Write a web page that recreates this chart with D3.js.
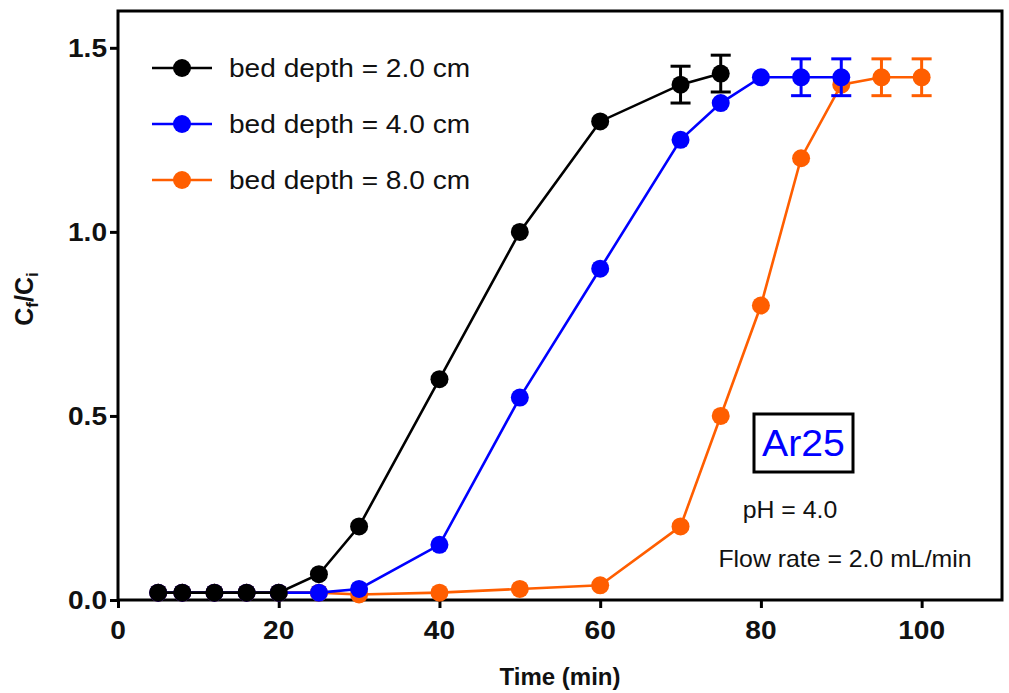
<!DOCTYPE html>
<html>
<head>
<meta charset="utf-8">
<script src="https://cdn.jsdelivr.net/npm/d3@7"></script>
<style>
  html, body { margin: 0; padding: 0; background: #fff; }
  svg { display: block; }
  text { font-family: "Liberation Sans", Arial, Helvetica, sans-serif; fill: #111; }
</style>
</head>
<body>
<svg id="chart" width="1009" height="693"></svg>
<script>
// Breakthrough curves for Ar25 at three bed depths
const seriesNames = ["bed depth = 2.0 cm", "bed depth = 4.0 cm", "bed depth = 8.0 cm"];
const seriesColors = ["#000000", "#0000ff", "#ff5e00"];

const time2cm  = [5, 8, 12, 16, 20, 25, 30, 40, 50, 60, 70, 75];
const ratio2cm = [0.02, 0.02, 0.02, 0.02, 0.02, 0.07, 0.20, 0.60, 1.00, 1.30, 1.40, 1.43];
const err2cm   = [0, 0, 0, 0, 0, 0, 0, 0, 0, 0, 0.05, 0.05];

const time4cm  = [5, 8, 12, 16, 20, 25, 30, 40, 50, 60, 70, 75, 80, 85, 90];
const ratio4cm = [0.02, 0.02, 0.02, 0.02, 0.02, 0.02, 0.03, 0.15, 0.55, 0.90, 1.25, 1.35, 1.42, 1.42, 1.42];
const err4cm   = [0, 0, 0, 0, 0, 0, 0, 0, 0, 0, 0, 0, 0, 0.05, 0.05];

const time8cm  = [5, 8, 12, 16, 20, 25, 30, 40, 50, 60, 70, 75, 80, 85, 90, 95, 100];
const ratio8cm = [0.02, 0.02, 0.02, 0.02, 0.02, 0.02, 0.015, 0.02, 0.03, 0.04, 0.20, 0.50, 0.80, 1.20, 1.40, 1.42, 1.42];
const err8cm   = [0, 0, 0, 0, 0, 0, 0, 0, 0, 0, 0, 0, 0, 0, 0, 0.05, 0.05];

const xTicks = [0, 20, 40, 60, 80, 100];
const yTicks = [0.0, 0.5, 1.0, 1.5];

const svg = d3.select("#chart");
const plotL = 118, plotR = 1002, plotT = 11, plotB = 600;

const x = d3.scaleLinear().domain([0, 110]).range([plotL, plotR]);
const y = d3.scaleLinear().domain([0, 1.6]).range([plotB, plotT]);

function toRows(t, v, e) {
  return t.map((d, i) => ({ t: d, v: v[i], e: e[i] }));
}
const series = [
  toRows(time2cm, ratio2cm, err2cm),
  toRows(time4cm, ratio4cm, err4cm),
  toRows(time8cm, ratio8cm, err8cm)
];

// horizontally widened label helper
function label(g, txt, px, py, opts) {
  const o = Object.assign({ size: 24, sx: 1.08, weight: "normal", anchor: "start", fill: "#111", dy: "0" }, opts || {});
  return g.append("text")
    .attr("transform", `translate(${px},${py}) scale(${o.sx},1)`)
    .attr("font-size", o.size)
    .attr("font-weight", o.weight)
    .attr("text-anchor", o.anchor)
    .attr("dy", o.dy)
    .style("fill", o.fill)
    .text(txt);
}

// axes
const xAxis = d3.axisBottom(x).tickValues(xTicks).tickSize(8).tickFormat(d3.format("d"));
const yAxis = d3.axisLeft(y).tickValues(yTicks).tickSize(8).tickFormat(d3.format(".1f"));

const gx = svg.append("g").attr("transform", `translate(0,${plotB})`).call(xAxis);
const gy = svg.append("g").attr("transform", `translate(${plotL},0)`).call(yAxis);
[gx, gy].forEach(g => {
  g.select(".domain").remove();
  g.selectAll(".tick line").attr("stroke", "#000").attr("stroke-width", 3);
  g.selectAll(".tick text").remove();
});

xTicks.forEach(v => label(svg, d3.format("d")(v), x(v), 639, { size: 26, sx: 1.08, weight: "bold", anchor: "middle" }));
yTicks.forEach(v => label(svg, d3.format(".1f")(v), 107, y(v), { size: 26, sx: 1.08, weight: "bold", anchor: "end", dy: "0.35em" }));

// frame
svg.append("rect")
  .attr("x", plotL).attr("y", plotT)
  .attr("width", plotR - plotL).attr("height", plotB - plotT)
  .attr("fill", "none").attr("stroke", "#000").attr("stroke-width", 3);

// axis titles
label(svg, "Time (min)", (plotL + plotR) / 2, 685, { size: 24, sx: 1.0, weight: "bold", anchor: "middle" });

const yTitle = svg.append("text")
  .attr("transform", "translate(33,299) rotate(-90)")
  .attr("text-anchor", "middle")
  .attr("font-size", 25)
  .attr("font-weight", "bold");
yTitle.append("tspan").text("C");
yTitle.append("tspan").attr("font-size", 17).attr("dy", 5).text("f");
yTitle.append("tspan").attr("dy", -5).text("/C");
yTitle.append("tspan").attr("font-size", 17).attr("dy", 5).text("i");

// data: drawn back to front so the 2.0 cm series sits on top
const line = d3.line().x(d => x(d.t)).y(d => y(d.v));
const order = [2, 1, 0];
order.forEach(i => {
  const g = svg.append("g");
  const col = seriesColors[i];
  g.append("path")
    .datum(series[i])
    .attr("d", line)
    .attr("fill", "none")
    .attr("stroke", col)
    .attr("stroke-width", 2.6);

  const eb = series[i].filter(d => d.e > 0);
  const cap = 10;
  g.selectAll(".ev").data(eb).enter().append("line")
    .attr("x1", d => x(d.t)).attr("x2", d => x(d.t))
    .attr("y1", d => y(d.v - d.e)).attr("y2", d => y(d.v + d.e))
    .attr("stroke", col).attr("stroke-width", 3);
  g.selectAll(".et").data(eb).enter().append("line")
    .attr("x1", d => x(d.t) - cap).attr("x2", d => x(d.t) + cap)
    .attr("y1", d => y(d.v + d.e)).attr("y2", d => y(d.v + d.e))
    .attr("stroke", col).attr("stroke-width", 3);
  g.selectAll(".eb").data(eb).enter().append("line")
    .attr("x1", d => x(d.t) - cap).attr("x2", d => x(d.t) + cap)
    .attr("y1", d => y(d.v - d.e)).attr("y2", d => y(d.v - d.e))
    .attr("stroke", col).attr("stroke-width", 3);

  g.selectAll("circle").data(series[i]).enter().append("circle")
    .attr("cx", d => x(d.t)).attr("cy", d => y(d.v))
    .attr("r", 9).attr("fill", col);
});

// legend
const legend = svg.append("g");
seriesNames.forEach((name, i) => {
  const ly = 68 + i * 56;
  legend.append("line")
    .attr("x1", 152).attr("x2", 212).attr("y1", ly).attr("y2", ly)
    .attr("stroke", seriesColors[i]).attr("stroke-width", 2.6);
  legend.append("circle").attr("cx", 182).attr("cy", ly).attr("r", 9).attr("fill", seriesColors[i]);
  label(legend, name, 229, ly, { size: 26, sx: 1.08, dy: "0.35em" });
});

// annotation
svg.append("rect")
  .attr("x", 754).attr("y", 414).attr("width", 99).attr("height", 58)
  .attr("fill", "none").attr("stroke", "#000").attr("stroke-width", 3);
label(svg, "Ar25", 803.5, 443, { size: 37, sx: 1.06, anchor: "middle", fill: "#0000ff", dy: "0.36em" });
label(svg, "pH = 4.0", 790, 518, { size: 23, sx: 1.08, anchor: "middle" });
label(svg, "Flow rate = 2.0 mL/min", 845, 567, { size: 23, sx: 1.08, anchor: "middle" });
</script>
</body>
</html>
